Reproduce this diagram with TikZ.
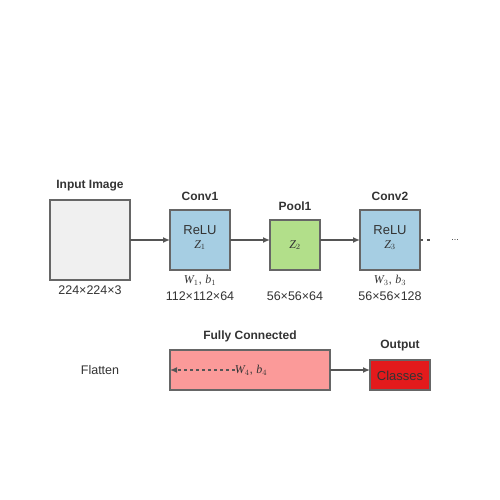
\documentclass[tikz,border=0pt]{standalone}
\usepackage{fontspec}
\setmainfont{Liberation Sans}
\newfontfamily\mathserif{Liberation Serif}
\usetikzlibrary{arrows.meta}
\definecolor{txt}{HTML}{333333}
\definecolor{edge}{HTML}{666666}
\definecolor{arr}{HTML}{555555}
\definecolor{inputfill}{HTML}{F0F0F0}
\definecolor{convfill}{HTML}{A6CEE3}
\definecolor{poolfill}{HTML}{B2DF8A}
\definecolor{fcfill}{HTML}{FB9A99}
\definecolor{outfill}{HTML}{E31A1C}
\newcommand{\vr}[2]{{\mathserif\itshape #1}$_{#2}$}
\begin{document}
\begin{tikzpicture}[x=1pt,y=-1pt,
  layerbox/.style={draw=edge,line width=1.5pt,inner sep=0pt,outer sep=0pt},
  title/.style={font=\fontsize{12}{14}\selectfont\bfseries,text=txt,inner sep=0pt},
  lbl/.style={font=\fontsize{12.5}{14}\selectfont,text=txt,inner sep=0pt},
  relu/.style={font=\fontsize{13}{15}\selectfont,text=txt,inner sep=0pt},
  mth/.style={font=\fontsize{12}{14}\selectfont,text=txt,inner sep=0pt},
  conn/.style={draw=arr,line width=1.3pt,-{Latex[length=7pt,width=6pt]}},
  dconn/.style={draw=arr,line width=1.3pt,dash pattern=on 3pt off 3pt,-{Latex[length=7pt,width=6pt]}}]
\useasboundingbox (0,0) rectangle (500,500);
% input
\node[layerbox,fill=inputfill,minimum width=80pt,minimum height=80pt] (in) at (90,240) {};
\node[title] (tin) at (90,186) {Input Image};
\node[lbl] (lin) at (90,290) {224×224×3};
% conv1
\node[layerbox,fill=convfill,minimum width=60pt,minimum height=60pt] (c1) at (200,240) {};
\node[title] (tc1) at (200,196) {Conv1};
\node[relu] (r1) at (200,230) {ReLU};
\node[mth] (z1) at (200,245) {\vr{Z}{1}};
\node[mth] (w1) at (200,280) {\vr{W}{1}, \vr{b}{1}};
\node[lbl] (l1) at (200,296) {112×112×64};
% pool1
\node[layerbox,fill=poolfill,minimum width=50pt,minimum height=50pt] (p1) at (295,245) {};
\node[title] (tp1) at (295,206) {Pool1};
\node[mth] (zp) at (295,245) {\vr{Z}{2}};
\node[lbl] (lp1) at (295,296) {56×56×64};
% conv2
\node[layerbox,fill=convfill,minimum width=60pt,minimum height=60pt] (c2) at (390,240) {};
\node[title] (tc2) at (390,196) {Conv2};
\node[relu] (r2) at (390,230) {ReLU};
\node[mth] (z2) at (390,245) {\vr{Z}{3}};
\node[mth] (w2) at (390,280) {\vr{W}{3}, \vr{b}{3}};
\node[lbl] (l2) at (390,296) {56×56×128};
\coordinate (dend) at (431,240);
\node[font=\fontsize{9}{10}\selectfont,text=txt,inner sep=0pt] (dots) at (455,240) {...};
% connectors
\draw[conn] (in.east) -- (c1.west);
\draw[conn] (c1.east) -- (p1.west |- c1.east);
\draw[conn] (p1.east |- c2.west) -- (c2.west);
\draw[draw=arr,line width=1.3pt,dash pattern=on 3pt off 4pt] (c2.east) -- (dend);
% bottom row
\node[lbl] (flat) at (100,370) {Flatten};
\node[layerbox,fill=fcfill,minimum width=160pt,minimum height=40pt] (fc) at (250,370) {};
\node[title] (tfc) at (250,336) {Fully Connected};
\node[mth] (wfc) at (251,370) {\vr{W}{4}, \vr{b}{4}};
\node[layerbox,fill=outfill,minimum width=60pt,minimum height=30pt] (out) at (400,375) {};
\node[title] (tout) at (400,346) {Output};
\node[relu] (cls) at (400,376) {Classes};
\draw[conn] (fc.east) -- (out.west |- fc.east);
\draw[dconn] (wfc.west) -- (fc.west);
\end{tikzpicture}
\end{document}
